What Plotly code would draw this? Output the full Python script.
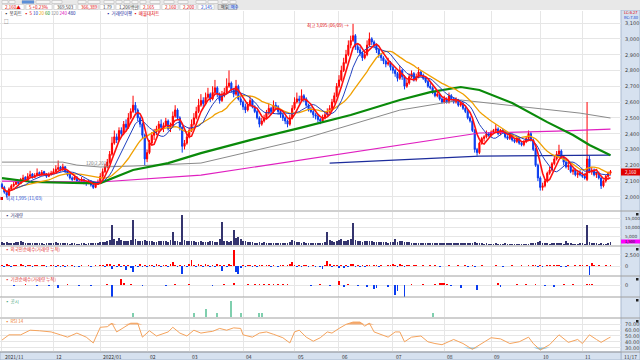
import plotly.graph_objects as go
import pandas as pd
import numpy as np

W, H = 640, 360
def px(x): return x / W
def py(y): return 1 - y / H

# ---------------- data ----------------
month_labels = ["2021/11", "12", "2022/01", "02", "03", "04", "05", "06", "07", "08", "09", "10", "11"]
month_idx = [0, 22, 42, 62, 80, 103, 125, 144, 167, 189, 209, 230, 248]
last_date_label = "11/17"

price_ticks = [2000, 2100, 2200, 2300, 2400, 2500, 2600, 2700, 2800, 2900, 3000, 3100]
volume_ticks = [5000, 10000, 15000]
foreign_ticks = [0, 2500]
inst_ticks = [0]
rsi_ticks = [30, 40, 50, 60, 70]

opens = [
 2080,2060,2030,2010,2050,2070,2080,2100,2085,2110,2125,2105,2130,2145,2125,2135,2155,2140,2160,2145,2130,2140,
 2150,2160,2175,2190,2170,2190,2160,2145,2120,2110,2125,2100,2095,2110,2090,2085,2100,2075,2060,2080,
 2095,2130,2160,2190,2220,2270,2340,2380,2360,2420,2400,2460,2440,2500,2540,2580,2550,2500,2460,2390,
 2240,2280,2340,2390,2410,2430,2460,2440,2450,2480,2430,2450,2510,2550,2500,2440,2320,2340,
 2380,2420,2460,2500,2540,2580,2610,2590,2630,2650,2620,2660,2690,2650,2610,2640,2660,2700,2720,2680,2650,2700,2620,
 2600,2570,2550,2580,2610,2570,2540,2500,2460,2480,2500,2530,2560,2540,2580,2570,2540,2520,2500,2480,2460,2500,
 2560,2600,2620,2610,2640,2620,2580,2550,2540,2520,2510,2490,2480,2500,2520,2540,2560,2600,2640,
 2700,2740,2800,2850,2900,2960,2990,3020,2950,2930,2910,2880,2900,2960,3000,2980,2960,2930,2900,2880,2860,2840,2850,
 2820,2800,2780,2750,2800,2760,2700,2720,2760,2780,2740,2760,2790,2770,2750,2730,2700,2690,2660,2640,2650,2620,
 2600,2620,2600,2640,2620,2600,2610,2580,2590,2560,2540,2500,2480,2420,2300,2280,2340,2370,2380,2400,
 2390,2410,2420,2430,2400,2420,2410,2380,2370,2390,2360,2350,2370,2340,2330,2350,2370,2400,2360,2300,2200,
 2120,2060,2070,2100,2150,2170,2210,2240,2270,2290,2250,2220,2190,2200,2160,2170,2140,2150,
 2140,2130,2110,2240,2160,2170,2140,2150,2120,2070,2100,2130,2150]
highs = [
 2090,2070,2040,2060,2080,2095,2110,2105,2120,2140,2130,2150,2165,2150,2150,2180,2160,2170,2165,2150,2155,2165,
 2180,2200,2230,2195,2210,2195,2170,2150,2130,2140,2130,2115,2125,2115,2100,2110,2105,2085,2095,2110,
 2150,2180,2210,2240,2290,2380,2420,2400,2440,2440,2480,2490,2530,2560,2640,2600,2560,2510,2470,2400,
 2300,2360,2410,2430,2450,2480,2490,2470,2500,2490,2470,2540,2580,2560,2510,2450,2360,2400,
 2440,2490,2530,2570,2620,2650,2630,2660,2690,2660,2700,2740,2700,2660,2670,2690,2750,2800,2730,2690,2740,2710,2640,
 2610,2590,2600,2640,2620,2580,2550,2510,2500,2520,2550,2590,2570,2610,2600,2580,2550,2530,2510,2490,2520,2580,
 2630,2660,2640,2680,2650,2630,2590,2570,2550,2530,2520,2500,2520,2540,2560,2580,2620,2660,2720,
 2770,2830,2880,2930,2990,3020,3095,3030,2970,2950,2920,2930,2990,3040,3010,2990,2970,2940,2910,2890,2870,2880,2860,
 2830,2810,2790,2830,2810,2770,2740,2780,2800,2790,2780,2820,2800,2780,2760,2740,2720,2700,2670,2670,2660,2630,
 2640,2630,2660,2650,2630,2630,2620,2600,2600,2570,2550,2510,2490,2430,2310,2350,2380,2390,2420,2410,
 2420,2430,2460,2440,2430,2430,2420,2390,2400,2400,2370,2380,2380,2350,2360,2380,2420,2410,2370,2310,2210,
 2130,2090,2110,2160,2190,2220,2260,2290,2330,2300,2260,2240,2220,2210,2180,2180,2160,2170,
 2160,2150,2600,2260,2190,2180,2160,2160,2130,2110,2140,2160,2170]
lows = [
 2050,2020,1995,2005,2040,2060,2075,2070,2080,2100,2095,2100,2125,2115,2120,2130,2130,2135,2135,2120,2125,2135,
 2145,2155,2170,2160,2165,2150,2130,2110,2100,2105,2090,2085,2090,2080,2070,2080,2065,2050,2055,2075,
 2090,2120,2150,2180,2210,2260,2330,2340,2350,2380,2390,2420,2430,2490,2530,2530,2480,2440,2370,2200,
 2220,2270,2330,2360,2390,2410,2420,2410,2440,2420,2410,2440,2500,2490,2420,2280,2300,2330,
 2370,2410,2450,2490,2530,2570,2570,2580,2620,2600,2610,2650,2630,2590,2600,2630,2650,2690,2660,2630,2640,2610,2580,
 2550,2530,2540,2570,2560,2530,2490,2440,2450,2470,2490,2520,2520,2530,2550,2520,2500,2480,2460,2440,2450,2490,
 2550,2590,2590,2600,2600,2570,2540,2530,2500,2490,2470,2460,2470,2490,2510,2530,2550,2590,2630,
 2690,2730,2790,2840,2890,2940,2980,2930,2910,2890,2860,2870,2890,2950,2960,2940,2910,2880,2860,2840,2820,2830,2800,
 2780,2760,2730,2740,2740,2680,2690,2710,2750,2730,2730,2750,2760,2740,2720,2690,2680,2650,2630,2630,2610,2590,
 2590,2590,2590,2610,2590,2590,2570,2570,2550,2530,2490,2470,2410,2280,2260,2270,2330,2350,2370,2380,
 2380,2400,2410,2390,2390,2400,2370,2360,2360,2350,2340,2340,2330,2320,2320,2340,2360,2350,2290,2190,2100,
 2040,2040,2060,2090,2140,2160,2200,2230,2250,2240,2200,2180,2170,2150,2140,2130,2120,2130,
 2120,2110,2100,2150,2140,2130,2120,2110,2050,2060,2090,2120,2140]
closes = [
 2060,2030,2010,2050,2070,2080,2095,2085,2110,2120,2105,2130,2140,2125,2135,2150,2140,2155,2145,2130,2140,2150,
 2160,2175,2185,2170,2190,2160,2140,2120,2110,2125,2100,2095,2110,2090,2085,2100,2075,2060,2080,2095,
 2130,2160,2190,2220,2270,2340,2380,2360,2420,2400,2460,2440,2500,2540,2580,2550,2500,2460,2390,2240,
 2280,2340,2390,2410,2430,2460,2440,2450,2480,2430,2450,2510,2550,2500,2440,2320,2340,2380,
 2420,2460,2500,2540,2580,2610,2590,2630,2650,2620,2660,2690,2650,2610,2640,2660,2700,2720,2680,2650,2700,2620,2600,
 2570,2550,2580,2610,2570,2540,2500,2460,2480,2500,2530,2560,2540,2580,2570,2540,2520,2500,2480,2460,2500,2560,
 2600,2620,2610,2640,2620,2580,2550,2540,2520,2510,2490,2480,2500,2520,2540,2560,2600,2640,2700,
 2740,2800,2850,2900,2960,2990,3020,2950,2930,2910,2880,2900,2960,3000,2980,2960,2930,2900,2880,2860,2840,2850,2820,
 2800,2780,2750,2800,2760,2700,2720,2760,2780,2740,2760,2790,2770,2750,2730,2700,2690,2660,2640,2650,2620,2600,
 2620,2600,2640,2620,2600,2610,2580,2590,2560,2540,2500,2480,2420,2300,2280,2340,2370,2380,2400,2390,
 2410,2420,2430,2400,2420,2410,2380,2370,2390,2360,2350,2370,2340,2330,2350,2370,2400,2360,2300,2200,2120,
 2060,2070,2100,2150,2170,2210,2240,2270,2290,2250,2220,2190,2200,2160,2170,2140,2150,2140,
 2130,2120,2240,2160,2170,2140,2150,2120,2070,2100,2130,2150,2160]
volumes = [
 1500,1200,1800,1300,1100,1000,1600,1400,2500,1700,1300,1000,900,1200,1100,1000,1300,900,800,1000,900,1100,
 1200,1500,1300,1000,1100,900,1000,800,900,1000,800,700,900,1000,800,900,1100,1000,1200,1300,
 1500,1800,1600,2000,3000,11000,3500,2500,4000,3000,2000,2500,2000,3000,14000,3500,2500,2000,2500,3000,
 2500,2000,2200,1800,1700,2000,2500,2200,2000,1800,3000,7000,2500,2000,1800,16500,3000,2200,
 2000,2500,2200,1800,1700,2000,1600,1500,1800,2000,2500,1700,1800,3500,13000,2500,2000,1800,2300,8500,4000,4500,3500,
 2500,2000,1500,1800,1500,1300,1200,1400,1300,1500,1200,1300,1100,1200,1300,1000,1200,1100,1300,1200,1500,3000,
 2000,1800,1500,1300,1400,1200,1100,1300,1000,1200,1100,1000,1200,1500,7500,3000,2000,1800,2500,
 3000,3500,2500,2500,3000,3500,12000,3000,2500,2000,1800,2000,2200,2500,2000,1800,1500,1700,1600,1400,1500,1300,1400,
 1500,3500,1800,2500,2000,1500,1600,1400,1300,1200,1300,1100,1200,1000,1100,1000,900,1000,1100,900,1000,900,
 1000,900,1100,1200,1000,900,1300,1100,1000,1200,1300,1100,1000,1500,1200,1000,900,800,900,800,
 800,700,900,800,700,800,900,700,800,700,600,700,800,700,600,700,800,900,1000,1200,1500,
 2000,1200,1000,900,800,1000,900,1000,1200,900,800,2000,1000,900,800,700,800,900,
 900,800,11000,1800,1200,1000,900,800,900,800,700,900,1500]
foreign_net = [
 300,-200,400,250,-150,300,200,-100,450,300,-200,150,250,-300,200,150,-100,200,300,-150,100,200,
 250,-200,300,-150,200,-250,150,-100,200,-150,100,-200,150,100,-100,200,-150,100,150,-100,
 300,200,-300,400,500,-600,300,-200,400,-300,200,-900,300,-400,-1400,200,-300,400,-200,300,
 -300,200,300,-200,400,300,-200,300,200,-300,400,900,300,-200,200,-1800,300,-200,
 400,1400,300,-200,500,300,-300,400,200,-300,300,-200,400,200,-1100,300,-200,400,300,3600,-1400,-1800,-400,
 300,-200,200,300,-150,200,-300,150,200,-100,300,200,-200,150,100,-150,200,300,-100,200,400,900,
 300,-200,200,-300,200,150,-200,100,200,-150,100,-200,-700,300,1100,400,-300,200,300,
 -500,300,-400,200,-300,400,500,-200,300,-300,200,-200,300,200,-100,200,300,-150,200,100,-100,150,200,
 400,300,-200,500,200,-150,300,200,-100,150,200,-100,100,150,-100,100,200,-100,150,100,-150,100,
 100,-100,150,100,-100,100,150,-100,100,200,-150,100,150,-200,100,-100,150,100,-100,100,
 -100,100,150,-100,100,-150,100,100,-100,150,100,-100,100,200,-100,100,150,-100,200,300,-200,
 200,-150,100,300,200,-100,150,200,300,-200,100,-150,200,100,-100,150,100,200,
 150,-100,300,-2200,600,200,-100,150,100,-100,150,100,200]
inst_idx = [5,10,15,20,24,28,33,38,45,47,51,52,55,60,70,74,80,90,95,99,105,108,110,112,114,116,118,120,122,
            132,136,140,144,146,148,152,156,159,160,165,168,169,172,175,180,185,187,188,189,190,192,196,203,
            212,213,220,224,228,232,236,240,244,250,251,252]
inst_val = [-100,100,-100,-100,-300,100,-100,-100,100,-1300,600,200,100,-100,-100,100,100,-100,100,200,100,100,100,100,100,100,100,100,100,
            -100,100,-100,400,-200,100,-100,-200,-400,-300,-200,-1000,-600,-1200,100,100,100,200,200,200,100,-100,-300,-500,
            200,-200,100,100,100,-100,-200,100,100,100,100,100]
notice_idx = [56, 82, 87, 92, 98, 102, 110, 111, 184]
notice_val = [1, 1, 2, 1, 4, 1, 1, 1, 1]
rsi_idx = [0,3,8,12,16,21,25,28,32,36,39,42,45,47,49,52,55,58,60,63,66,71,73,76,79,82,85,88,90,93,96,99,102,103,
           107,110,113,116,120,123,125,127,130,133,136,139,141,144,147,150,153,155,157,159,162,165,168,170,172,175,
           179,182,185,188,193,197,201,204,209,213,217,221,225,227,230,234,238,242,246,248,251,254,256,259,260]
rsi_val = [43,52,52,60,59,57,52,48,55,48,38,65,66,72,57,65,72,72,48,59,50,57,65,55,50,60,55,57,58,63,60,64,63,52,
           48,55,57,53,47,38,57,60,48,41,47,57,55,63,70,74,74,67,72,57,53,48,57,57,40,48,
           50,40,37,35,44,37,27,35,47,45,37,40,48,37,26,35,52,39,44,37,52,44,39,46,48]
ma60_idx = [0,13,35,42,56,71,85,106,127,149,170,183,196,204,218,233,244,251,260]
ma60_val = [2119,2094,2087,2087,2170,2214,2277,2359,2435,2518,2613,2663,2695,2676,2594,2473,2391,2328,2264]
ma120_idx = [0,26,32,42,56,85,127,170,196,204,226,247,260]
ma120_val = [2220,2220,2201,2189,2195,2214,2359,2549,2613,2600,2568,2530,2499]
ma240_idx = [0,42,85,127,170,204,237,260]
ma240_val = [2100,2094,2138,2233,2328,2404,2416,2429]
ma480_idx = [140,170,204,260]
ma480_val = [2214,2233,2258,2264]

assert len(opens) == len(highs) == len(lows) == len(closes) == len(volumes) == len(foreign_net) == 261
assert len(rsi_idx) == len(rsi_val) and len(inst_idx) == len(inst_val)

n = len(closes)
xs = list(range(n))
cs = pd.Series(closes, dtype=float)
ma5 = cs.rolling(5, min_periods=1).mean()
ma10 = cs.rolling(10, min_periods=1).mean()
ma20 = cs.rolling(20, min_periods=1).mean()

RED = "#ff0000"
BLUE = "#0a3cf0"

fig = go.Figure()
fig.add_trace(go.Candlestick(
    x=xs, open=opens, high=highs, low=lows, close=closes,
    increasing=dict(line=dict(color=RED, width=1), fillcolor=RED),
    decreasing=dict(line=dict(color=BLUE, width=1), fillcolor=BLUE),
    whiskerwidth=0, xaxis="x", yaxis="y", showlegend=False, hoverinfo="skip"))
for ix, vals, col, w in [(ma480_idx, ma480_val, "#1c2c9c", 1.3), (ma240_idx, ma240_val, "#e020c0", 1.2),
                         (ma120_idx, ma120_val, "#8a8a8a", 1.0), (ma60_idx, ma60_val, "#0a8a0a", 2.2)]:
    fig.add_trace(go.Scatter(x=ix, y=vals, mode="lines", line=dict(color=col, width=w),
                             xaxis="x", yaxis="y", showlegend=False, hoverinfo="skip"))
fig.add_trace(go.Scatter(x=xs, y=ma20, mode="lines", line=dict(color="#f0a000", width=1.3),
                         xaxis="x", yaxis="y", showlegend=False, hoverinfo="skip"))
fig.add_trace(go.Scatter(x=xs, y=ma10, mode="lines", line=dict(color="#2040c0", width=1),
                         xaxis="x", yaxis="y", showlegend=False, hoverinfo="skip"))
fig.add_trace(go.Scatter(x=xs, y=ma5, mode="lines", line=dict(color="#ff1010", width=1.6),
                         xaxis="x", yaxis="y", showlegend=False, hoverinfo="skip"))

fig.add_trace(go.Bar(x=xs, y=volumes, marker=dict(color="#34346e", line=dict(width=0)), width=0.75,
                     xaxis="x2", yaxis="y2", showlegend=False, hoverinfo="skip"))
fig.add_trace(go.Bar(x=xs, y=foreign_net, width=0.75,
                     marker=dict(color=[RED if v >= 0 else BLUE for v in foreign_net], line=dict(width=0)),
                     xaxis="x3", yaxis="y3", showlegend=False, hoverinfo="skip"))
fig.add_trace(go.Bar(x=inst_idx, y=inst_val, width=0.75,
                     marker=dict(color=[RED if v >= 0 else BLUE for v in inst_val], line=dict(width=0)),
                     xaxis="x4", yaxis="y4", showlegend=False, hoverinfo="skip"))
fig.add_trace(go.Bar(x=notice_idx, y=notice_val, width=0.8,
                     marker=dict(color="#7fcfae", line=dict(width=0)),
                     xaxis="x5", yaxis="y5", showlegend=False, hoverinfo="skip"))
rsi = np.array(rsi_val, dtype=float)
fig.add_trace(go.Scatter(x=rsi_idx, y=[70] * len(rsi_idx), mode="lines", line=dict(width=0),
                         xaxis="x6", yaxis="y6", showlegend=False, hoverinfo="skip"))
fig.add_trace(go.Scatter(x=rsi_idx, y=np.maximum(rsi, 70), mode="lines", line=dict(width=0),
                         fill="tonexty", fillcolor="rgba(240,150,80,0.8)",
                         xaxis="x6", yaxis="y6", showlegend=False, hoverinfo="skip"))
fig.add_trace(go.Scatter(x=rsi_idx, y=[30] * len(rsi_idx), mode="lines", line=dict(width=0),
                         xaxis="x6", yaxis="y6", showlegend=False, hoverinfo="skip"))
fig.add_trace(go.Scatter(x=rsi_idx, y=np.minimum(rsi, 30), mode="lines", line=dict(width=0),
                         fill="tonexty", fillcolor="rgba(110,190,230,0.8)",
                         xaxis="x6", yaxis="y6", showlegend=False, hoverinfo="skip"))
fig.add_trace(go.Scatter(x=rsi_idx, y=rsi_val, mode="lines", line=dict(color="#f5a35c", width=1),
                         xaxis="x6", yaxis="y6", showlegend=False, hoverinfo="skip"))

xdom = [0, px(621)]
xrange_ = [-0.85, 264.5]
GRID = "#e6e6e6"

def xax(anchor, match=True):
    d = dict(domain=xdom, range=xrange_, tickmode="array", tickvals=month_idx, showticklabels=False,
             showgrid=True, gridcolor=GRID, gridwidth=1, zeroline=False, ticks="", anchor=anchor,
             showline=False, fixedrange=True)
    if match:
        d["matches"] = "x"
    return d

def yax(top, bot, rng, tickvals, anchor):
    return dict(domain=[py(bot), py(top)], range=rng, side="right", anchor=anchor, tickmode="array",
                tickvals=tickvals, showticklabels=False, ticks="", showgrid=True, gridcolor=GRID,
                zeroline=False, showline=False, fixedrange=True)

fig.update_layout(
    width=W, height=H, margin=dict(l=0, r=0, t=0, b=0),
    paper_bgcolor="white", plot_bgcolor="rgba(0,0,0,0)",
    showlegend=False, bargap=0, dragmode=False,
    font=dict(family="Noto Sans CJK KR, DejaVu Sans", size=6),
    xaxis=dict(**xax("y", match=False), rangeslider=dict(visible=False)),
    xaxis2=xax("y2"), xaxis3=xax("y3"), xaxis4=xax("y4"), xaxis5=xax("y5"), xaxis6=xax("y6"),
    yaxis=yax(11, 210, [1917, 3176], price_ticks, "x"),
    yaxis2=yax(212, 245, [0, 18333], volume_ticks, "x2"),
    yaxis3=yax(247, 275, [-2043, 4313], foreign_ticks, "x3"),
    yaxis4=yax(277, 297, [-1200, 800], inst_ticks, "x4"),
    yaxis5=yax(298, 317, [0, 4.87], [], "x5"),
    yaxis6=yax(319, 352, [22.4, 79.3], rsi_ticks, "x6"),
)

shapes = []
# right axis band and bottom date band
shapes.append(dict(type="rect", xref="paper", yref="paper", x0=px(621), x1=1, y0=0, y1=py(10),
                   fillcolor="#d6e1ef", line=dict(color="#a9b9cf", width=1), layer="below"))
shapes.append(dict(type="rect", xref="paper", yref="paper", x0=0, x1=px(621), y0=0, y1=py(352),
                   fillcolor="#d6e1ef", line=dict(color="#a9b9cf", width=1), layer="below"))
# toolbar
shapes.append(dict(type="rect", xref="paper", yref="paper", x0=0, x1=1, y0=py(10), y1=1,
                   fillcolor="#e8e8e8", line=dict(width=0), layer="above"))
for (a, b) in [(2, 8), (9, 15), (22, 34), (36, 50), (52, 62), (78, 86), (88, 100), (104, 114), (116, 122),
               (124, 130), (132, 138), (140, 146), (150, 160), (164, 174), (178, 188), (196, 206), (208, 218),
               (222, 228), (230, 236)]:
    shapes.append(dict(type="rect", xref="paper", yref="paper", x0=px(a), x1=px(b), y0=py(3.5), y1=py(0.5),
                       fillcolor="#f6f6f6", line=dict(color="#b0b0b0", width=0.5), layer="above"))
shapes.append(dict(type="rect", xref="paper", yref="paper", x0=px(22), x1=px(34), y0=py(3.5), y1=py(0.5),
                   fillcolor="#5b8fd8", line=dict(width=0), layer="above"))
for (a, b) in [(2, 24), (26, 52), (54, 76), (78, 98), (100, 114), (116, 138), (140, 160), (162, 178),
               (180, 196), (198, 214)]:
    shapes.append(dict(type="rect", xref="paper", yref="paper", x0=px(a), x1=px(b), y0=py(9.5), y1=py(4.5),
                       fillcolor="white", line=dict(color="#c0c0c0", width=0.5), layer="above"))
for (a, b, c) in [(218, 227, "#dcdcdc"), (228, 237, "#c8d8f0")]:
    shapes.append(dict(type="rect", xref="paper", yref="paper", x0=px(a), x1=px(b), y0=py(9.5), y1=py(4.5),
                       fillcolor=c, line=dict(color="#909090", width=0.5), layer="above"))
# panel separators
for yy in [211, 246, 276, 297, 318, 352]:
    shapes.append(dict(type="line", xref="paper", yref="paper", x0=0, x1=1, y0=py(yy), y1=py(yy),
                       line=dict(color="#a0a0a0", width=1), layer="above"))
# small squares at the top right of each panel
for yy in [213, 248, 278, 299, 320]:
    shapes.append(dict(type="rect", xref="paper", yref="paper", x0=px(636), x1=px(638.5), y0=py(yy + 2.5), y1=py(yy),
                       fillcolor="#222", line=dict(width=0), layer="above"))
# current price tag / current volume tag / low marker
shapes.append(dict(type="rect", xref="paper", yref="paper", x0=px(621), x1=px(640), y0=py(175.5), y1=py(168.5),
                   fillcolor="#e00000", line=dict(width=0), layer="above"))
shapes.append(dict(type="rect", xref="paper", yref="paper", x0=px(621), x1=px(640), y0=py(243.5), y1=py(239.5),
                   fillcolor="#ff00ff", line=dict(width=0), layer="above"))
shapes.append(dict(type="rect", xref="paper", yref="paper", x0=px(0.5), x1=px(3), y0=py(200), y1=py(197),
                   fillcolor="#e00000", line=dict(width=0), layer="above"))
fig.update_layout(shapes=shapes)

ann = []
def txt(x, y, s, color="#333", size=6, anchor="left"):
    ann.append(dict(x=px(x), y=py(y), xref="paper", yref="paper", text=s,
                    showarrow=False, xanchor=anchor, yanchor="middle", font=dict(size=size, color=color)))

# right-hand scale labels (drawn at the axis values of each panel)
for yref, vals, fmt, fs in [("y", price_ticks, "{:,.0f}", 5), ("y2", volume_ticks, "{:,.0f}", 4.3),
                            ("y3", foreign_ticks, "{:,.0f}", 5), ("y4", inst_ticks, "{:,.0f}", 5),
                            ("y6", rsi_ticks, "{:.2f}", 5)]:
    for v in vals:
        ann.append(dict(x=px(622.5), y=v, xref="paper", yref=yref, text=fmt.format(v), showarrow=False,
                        xanchor="left", yanchor="middle",
                        font=dict(size=fs, color="#404040", family="DejaVu Sans")))

# toolbar texts
txt(3, 7, "2,160▲", "#e00000", 4.5)
txt(27, 7, "5 +0.23%", "#e00000", 4.5)
txt(55, 7, "369,503", "#333", 4.5)
txt(79, 7, "366,389", "#e00000", 4.5)
txt(101, 7, "1.79", "#333", 4.5)
txt(117, 7, "1,206백만", "#333", 4.5)
txt(141, 7, "2,165", "#e00000", 4.5)
txt(163, 7, "2,160", "#e00000", 4.5)
txt(181, 7, "2,200", "#e00000", 4.5)
txt(199, 7, "2,145", "#1040d0", 4.5)
txt(218.5, 7, "매도", "#333", 4)
txt(228.5, 7, "매수", "#1040d0", 4)
# legend row
txt(2, 13.5, "▪ 봉차트  <span style='color:#e00000'>▪ 5</span> <span style='color:#2040c0'>10</span> "
    "<span style='color:#f0a000'>20</span> <span style='color:#0a8a0a'>60</span> "
    "<span style='color:#8a8a8a'>120</span> <span style='color:#e020c0'>240</span> "
    "<span style='color:#1c2c9c'>480</span>", "#333", 4.5)
txt(104, 13.5, "<span style='color:#1c2c9c'>▪ 거래량이평</span> <span style='color:#e00000'>▪ 매물대차트</span>", "#333", 4.5)
txt(2, 20.5, "□", "#555", 4.5)
# price annotations
txt(351, 26, "최고 3,095 (06/09) →", "#e00000", 4.5, anchor="right")
txt(4, 198.5, "최저 1,995 (11/03)", "#1040d0", 4.5)
txt(84, 163, "120(2,201)", "#777", 4.5)
# right axis header and tags
txt(622, 12.5, "LC:6.27", "#e00000", 4)
txt(622, 17, "RC:7.80", "#1040d0", 4)
txt(630.5, 172, "2,160", "white", 4.5, anchor="center")
txt(630.5, 241.5, "1,500", "#222", 4, anchor="center")
txt(630.5, 356, last_date_label, "#333", 5, anchor="center")
# panel titles
txt(3, 215, "▪ 거래량", "#34346e", 4.5)
txt(3, 249.5, "▪ 외국인순매수(거래량 누적)", "#e03030", 4.5)
txt(3, 279.5, "▪ 기관순매수(거래량 누적)", "#e03030", 4.5)
txt(3, 300.5, "▪ 공시", "#4aa883", 4.5)
txt(3, 321, "▪ RSI 14", "#f08030", 4.5)
# bottom date labels
for mi, lab in zip(month_idx, month_labels):
    ann.append(dict(x=mi, y=py(356), xref="x6", yref="paper", text=lab, showarrow=False,
                    xanchor="left", yanchor="middle", xshift=1, font=dict(size=5, color="#333")))
fig.update_layout(annotations=ann)

fig.write_html("out.html", config={"displayModeBar": False, "staticPlot": True},
               post_script="document.body.style.margin='0';document.body.style.padding='0';"
                           "document.body.style.overflow='hidden';")
